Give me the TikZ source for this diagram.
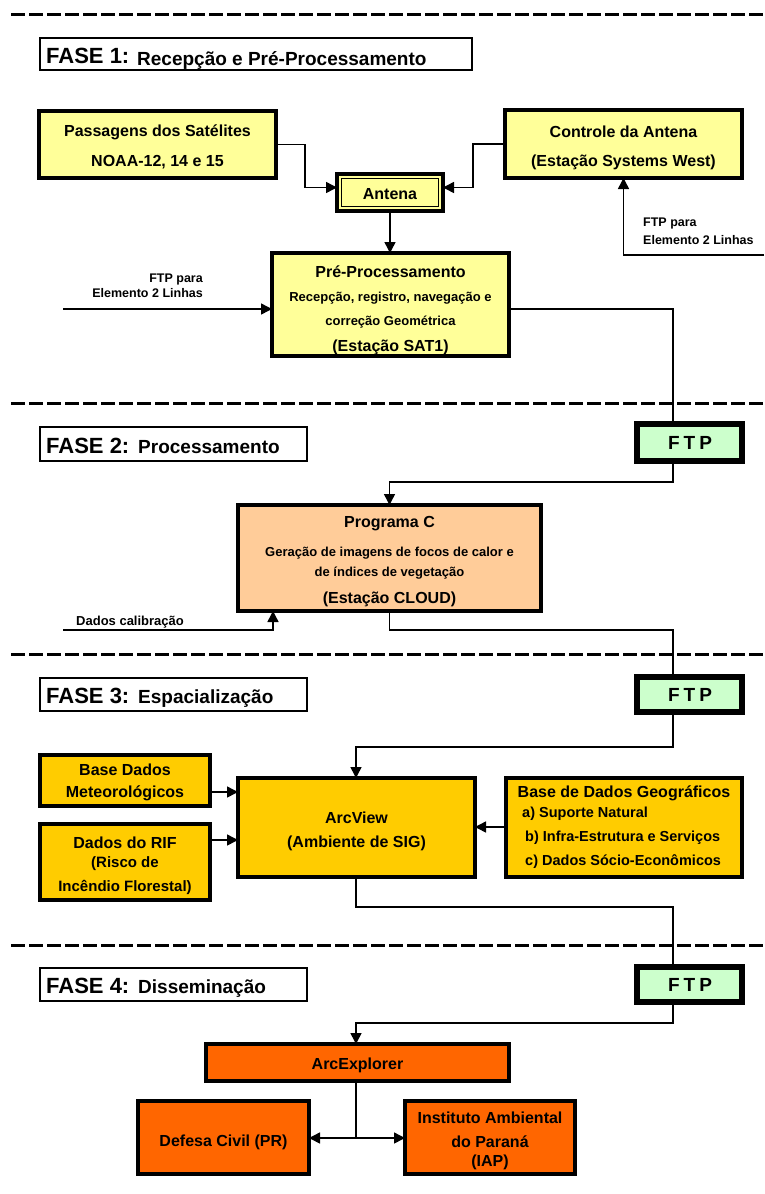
\documentclass[tikz,border=0pt]{standalone}
\usepackage{fontspec}
\setmainfont{Liberation Sans}
\usetikzlibrary{arrows.meta}
\definecolor{lyellow}{HTML}{FFFF99}
\definecolor{peach}{HTML}{FFCC99}
\definecolor{gold}{HTML}{FFCC00}
\definecolor{orng}{HTML}{FF6600}
\definecolor{lgreen}{HTML}{CCFFCC}
\newcommand\sz[1]{\fontsize{#1}{#1}\selectfont\bfseries}
\newcommand\mybox[6]{\node[#6, anchor=north west, minimum width={(#4-#2)*1pt}, minimum height={(#5-#3)*1pt}] (#1) at (#2,#3) {};}
\tikzset{
  sep/.style={line width=3pt, dash pattern=on 14pt off 4pt},
  anybox/.style={draw, inner sep=0pt, outer sep=0pt},
  phasebox/.style={anybox, line width=2pt, fill=white},
  ybox/.style={anybox, line width=3.5pt, fill=lyellow},
  pbox/.style={anybox, line width=3.5pt, fill=peach},
  gbox/.style={anybox, line width=3.5pt, fill=gold},
  obox/.style={anybox, line width=3.5pt, fill=orng},
  ftpbox/.style={anybox, line width=6pt, fill=lgreen},
  antbox/.style={anybox, line width=3.5pt, fill=lyellow},
  txt/.style={inner sep=0pt, text=black},
  conn/.style={line width=1.5pt},
  arr/.style={line width=1.5pt, -{Triangle[length=11pt,width=11pt]}},
}
\begin{document}
\begin{tikzpicture}[x=1pt,y=-1pt]
\useasboundingbox (0,0) rectangle (764,1194);

% separators
\coordinate (s1a) at (11,14);  \coordinate (s1b) at (764,14);
\coordinate (s2a) at (11,403); \coordinate (s2b) at (764,403);
\coordinate (s3a) at (11,654); \coordinate (s3b) at (764,654);
\coordinate (s4a) at (11,945); \coordinate (s4b) at (764,945);
\draw[sep] (s1a) -- (s1b);
\draw[sep] (s2a) -- (s2b);
\draw[sep] (s3a) -- (s3b);
\draw[sep] (s4a) -- (s4b);

% ================= FASE 1
\mybox{f1}{40}{38}{472}{70}{phasebox}
\node[txt, anchor=base west] (f1a) at (46,63) {\sz{22}FASE 1:};
\node[txt, anchor=base west] (f1b) at (137,65) {\sz{19}Recepção e Pré-Processamento};

\mybox{pass}{39}{111}{276}{178}{ybox}
\node[txt] (passt1) at (157.5,132) {\sz{16}Passagens dos Satélites};
\node[txt] (passt2) at (157.5,162) {\sz{16}NOAA-12, 14 e 15};

\mybox{ctrl}{505}{110}{742}{178}{ybox}
\node[txt] (ctrlt1) at (623.5,132) {\sz{16}Controle da Antena};
\node[txt] (ctrlt2) at (623.5,162) {\sz{16}(Estação Systems West)};

\mybox{ant}{337}{174}{443}{211}{antbox}
\draw[line width=1.5pt] ([shift={(4.5pt,-4.5pt)}]ant.north west) rectangle ([shift={(-4.5pt,4.5pt)}]ant.south east);
\node[txt] (antt) at (390,194) {\sz{16}Antena};

\mybox{pre}{272}{253}{509}{356}{ybox}
\node[txt] (pret1) at (390.5,272) {\sz{16}Pré-Processamento};
\node[txt] (pret2) at (390.5,298) {\sz{13}Recepção, registro, navegação e};
\node[txt] (pret3) at (390.5,322) {\sz{13}correção Geométrica};
\node[txt] (pret4) at (390.5,347) {\sz{16}(Estação SAT1)};

\coordinate (pa1) at (305,144.5);
\draw[arr] (pass.east) -- (pa1) |- ([yshift=5pt]ant.west);
\coordinate (ca1) at (473,144);
\draw[arr] (ctrl.west) -- (ca1) |- ([yshift=5pt]ant.east);
\draw[arr] (ant.south) -- (ant.south |- pre.north);

\coordinate (rt1) at (764,255);
\draw[arr] (rt1) -| (ctrl.south);
\node[txt, anchor=west, align=left, font=\fontsize{12.5}{18}\selectfont\bfseries] (rtt) at (643,231) {FTP para\\Elemento 2 Linhas};

\coordinate (lt1) at (63,309);
\draw[arr] (lt1) -- (lt1 -| pre.west);
\node[txt, anchor=east, align=right, font=\fontsize{12.5}{15}\selectfont\bfseries] (ltt) at (203,285.5) {FTP para\\Elemento 2 Linhas};

% ================= FASE 2
\mybox{f2}{40}{427}{307}{461}{phasebox}
\node[txt, anchor=base west] (f2a) at (46,453) {\sz{22}FASE 2:};
\node[txt, anchor=base west] (f2b) at (138,453) {\sz{19}Processamento};

\mybox{ftp2}{637}{424}{742}{461}{ftpbox}
\node[txt] (ftp2t) at (690,443) {\sz{19}F\kern4pt T\kern4pt P};

\coordinate (c1a) at (673,309);
\draw[conn] ([yshift=-4.5pt]pre.east) -- (c1a) -- (c1a |- ftp2.north);

\mybox{prog}{238}{505}{541}{611}{pbox}
\node[txt] (progt1) at (389.5,524) {\sz{16}Programa C};
\node[txt] (progt2) at (389.5,553) {\sz{13}Geração de imagens de focos de calor e};
\node[txt] (progt3) at (389.5,573) {\sz{13}de índices de vegetação};
\node[txt] (progt4) at (389.5,599) {\sz{16}(Estação CLOUD)};

\coordinate (c2a) at (673,482);
\draw[arr] (c2a |- ftp2.south) -- (c2a) -| (prog.north);

\coordinate (dc1) at (63,630);
\coordinate (dc2) at (273,630);
\draw[arr] (dc1) -- (dc2) -- (dc2 |- prog.south);
\node[txt, anchor=west] (dct) at (76,622) {\sz{13}Dados calibração};

% ================= FASE 3
\mybox{f3}{40}{678}{307}{711}{phasebox}
\node[txt, anchor=base west] (f3a) at (46,703) {\sz{22}FASE 3:};
\node[txt, anchor=base west] (f3b) at (138,703) {\sz{19}Espacialização};

\mybox{ftp3}{637}{677}{742}{712}{ftpbox}
\node[txt] (ftp3t) at (690,695) {\sz{19}F\kern4pt T\kern4pt P};

\coordinate (c3a) at (389.5,630);
\coordinate (c3b) at (673,630);
\draw[conn] (prog.south) -- (c3a) -- (c3b) -- (c3b |- ftp3.north);

\mybox{arcv}{238}{778}{475}{877}{gbox}
\node[txt] (arcvt1) at (356.5,818) {\sz{16}ArcView};
\node[txt] (arcvt2) at (356.5,843) {\sz{16}(Ambiente de SIG)};

\coordinate (c4a) at (673,747);
\coordinate (c4b) at (356,747);
\draw[arr] (c4a |- ftp3.south) -- (c4a) -- (c4b) -- (c4b |- arcv.north);

\mybox{met}{40}{755}{210}{806}{gbox}
\node[txt] (mett1) at (125,770) {\sz{16}Base Dados};
\node[txt] (mett2) at (125,793) {\sz{16}Meteorológicos};

\mybox{rif}{40}{824}{210}{900}{gbox}
\node[txt] (rift1) at (125,843) {\sz{16}Dados do RIF};
\node[txt] (rift2) at (125,864) {\sz{15}(Risco de};
\node[txt] (rift3) at (125,887) {\sz{15}Incêndio Florestal)};

\coordinate (m1) at (210,792);
\draw[arr] (m1) -- (m1 -| arcv.west);
\coordinate (r1) at (210,840);
\draw[arr] (r1) -- (r1 -| arcv.west);

\mybox{geo}{506}{778}{742}{877}{gbox}
\node[txt] (geot1) at (624,793) {\sz{16}Base de Dados Geográficos};
\node[txt, anchor=west] (geot2) at (522,814) {\sz{14.5}a) Suporte Natural};
\node[txt, anchor=west] (geot3) at (525,838) {\sz{14.5}b) Infra-Estrutura e Serviços};
\node[txt, anchor=west] (geot4) at (525,862) {\sz{14.5}c) Dados Sócio-Econômicos};

\coordinate (g1) at (506,827);
\draw[arr] (g1) -- (g1 -| arcv.east);

% ================= FASE 4
\mybox{f4}{40}{968}{307}{1001}{phasebox}
\node[txt, anchor=base west] (f4a) at (46,993) {\sz{22}FASE 4:};
\node[txt, anchor=base west] (f4b) at (138,993) {\sz{19}Disseminação};

\mybox{ftp4}{637}{967}{742}{1002}{ftpbox}
\node[txt] (ftp4t) at (690,985) {\sz{19}F\kern4pt T\kern4pt P};

\coordinate (c5a) at (356,907);
\coordinate (c5b) at (673,907);
\draw[conn] (c5a |- arcv.south) -- (c5a) -- (c5b) -- (c5b |- ftp4.north);

\mybox{arce}{206}{1044}{509}{1081}{obox}
\node[txt] (arcet) at (357.5,1065) {\sz{16}ArcExplorer};

\coordinate (c6a) at (673,1023);
\coordinate (c6b) at (356,1023);
\draw[arr] (c6a |- ftp4.south) -- (c6a) -- (c6b) -- (c6b |- arce.north);

\mybox{def}{138}{1101}{309}{1174}{obox}
\node[txt] (deft) at (223.5,1142) {\sz{16}Defesa Civil (PR)};

\mybox{iap}{405}{1101}{575}{1174}{obox}
\node[txt] (iapt1) at (490,1118) {\sz{16}Instituto Ambiental};
\node[txt] (iapt2) at (490,1142) {\sz{16}do Paraná};
\node[txt] (iapt3) at (490,1162) {\sz{16}(IAP)};

\coordinate (sp) at (356,1138);
\draw[conn] (sp |- arce.south) -- (sp);
\draw[arr] (sp) -- (sp -| def.east);
\draw[arr] (sp) -- (sp -| iap.west);
\end{tikzpicture}
\end{document}
